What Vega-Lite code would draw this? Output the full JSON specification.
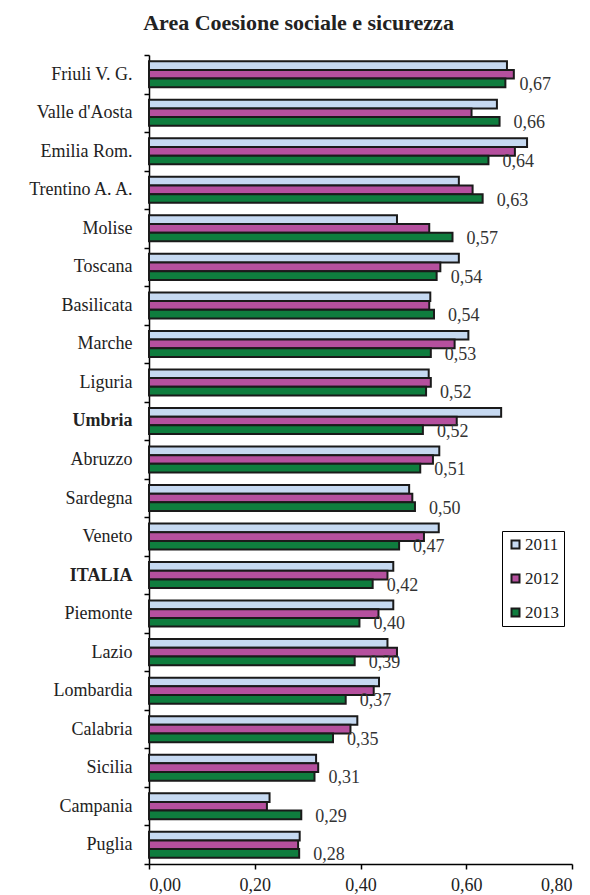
{
  "$schema": "https://vega.github.io/schema/vega-lite/v6.json",
  "autosize": "none",
  "padding": {"left": 149, "top": 55, "right": 18, "bottom": 31},
  "width": 423,
  "height": 809,
  "background": "white",
  "title": {
    "text": "Area Coesione sociale e sicurezza",
    "font": "Liberation Serif",
    "fontSize": 22,
    "fontWeight": "bold",
    "color": "#222222",
    "anchor": "middle",
    "dx": -62,
    "offset": 11
  },
  "config": {
    "view": {"stroke": null},
    "locale": {"number": {"decimal": ",", "thousands": ".", "grouping": [3], "currency": ["", " €"]}}
  },
  "data": {
    "values": [
      {"region": "Friuli V. G.", "year": "2011", "value": 0.677},
      {"region": "Friuli V. G.", "year": "2012", "value": 0.690},
      {"region": "Friuli V. G.", "year": "2013", "value": 0.674},
      {"region": "Valle d'Aosta", "year": "2011", "value": 0.658},
      {"region": "Valle d'Aosta", "year": "2012", "value": 0.610},
      {"region": "Valle d'Aosta", "year": "2013", "value": 0.663},
      {"region": "Emilia Rom.", "year": "2011", "value": 0.715},
      {"region": "Emilia Rom.", "year": "2012", "value": 0.692},
      {"region": "Emilia Rom.", "year": "2013", "value": 0.642},
      {"region": "Trentino A. A.", "year": "2011", "value": 0.586},
      {"region": "Trentino A. A.", "year": "2012", "value": 0.612},
      {"region": "Trentino A. A.", "year": "2013", "value": 0.631},
      {"region": "Molise", "year": "2011", "value": 0.469},
      {"region": "Molise", "year": "2012", "value": 0.530},
      {"region": "Molise", "year": "2013", "value": 0.574},
      {"region": "Toscana", "year": "2011", "value": 0.586},
      {"region": "Toscana", "year": "2012", "value": 0.551},
      {"region": "Toscana", "year": "2013", "value": 0.544},
      {"region": "Basilicata", "year": "2011", "value": 0.532},
      {"region": "Basilicata", "year": "2012", "value": 0.530},
      {"region": "Basilicata", "year": "2013", "value": 0.539},
      {"region": "Marche", "year": "2011", "value": 0.604},
      {"region": "Marche", "year": "2012", "value": 0.578},
      {"region": "Marche", "year": "2013", "value": 0.533},
      {"region": "Liguria", "year": "2011", "value": 0.529},
      {"region": "Liguria", "year": "2012", "value": 0.533},
      {"region": "Liguria", "year": "2013", "value": 0.524},
      {"region": "Umbria", "year": "2011", "value": 0.666},
      {"region": "Umbria", "year": "2012", "value": 0.582},
      {"region": "Umbria", "year": "2013", "value": 0.518},
      {"region": "Abruzzo", "year": "2011", "value": 0.549},
      {"region": "Abruzzo", "year": "2012", "value": 0.537},
      {"region": "Abruzzo", "year": "2013", "value": 0.513},
      {"region": "Sardegna", "year": "2011", "value": 0.492},
      {"region": "Sardegna", "year": "2012", "value": 0.498},
      {"region": "Sardegna", "year": "2013", "value": 0.503},
      {"region": "Veneto", "year": "2011", "value": 0.548},
      {"region": "Veneto", "year": "2012", "value": 0.520},
      {"region": "Veneto", "year": "2013", "value": 0.473},
      {"region": "ITALIA", "year": "2011", "value": 0.462},
      {"region": "ITALIA", "year": "2012", "value": 0.451},
      {"region": "ITALIA", "year": "2013", "value": 0.423},
      {"region": "Piemonte", "year": "2011", "value": 0.462},
      {"region": "Piemonte", "year": "2012", "value": 0.434},
      {"region": "Piemonte", "year": "2013", "value": 0.398},
      {"region": "Lazio", "year": "2011", "value": 0.451},
      {"region": "Lazio", "year": "2012", "value": 0.469},
      {"region": "Lazio", "year": "2013", "value": 0.389},
      {"region": "Lombardia", "year": "2011", "value": 0.435},
      {"region": "Lombardia", "year": "2012", "value": 0.425},
      {"region": "Lombardia", "year": "2013", "value": 0.372},
      {"region": "Calabria", "year": "2011", "value": 0.394},
      {"region": "Calabria", "year": "2012", "value": 0.381},
      {"region": "Calabria", "year": "2013", "value": 0.348},
      {"region": "Sicilia", "year": "2011", "value": 0.316},
      {"region": "Sicilia", "year": "2012", "value": 0.320},
      {"region": "Sicilia", "year": "2013", "value": 0.313},
      {"region": "Campania", "year": "2011", "value": 0.228},
      {"region": "Campania", "year": "2012", "value": 0.223},
      {"region": "Campania", "year": "2013", "value": 0.288},
      {"region": "Puglia", "year": "2011", "value": 0.285},
      {"region": "Puglia", "year": "2012", "value": 0.282},
      {"region": "Puglia", "year": "2013", "value": 0.284}
    ]
  },
  "encoding": {
    "y": {
      "field": "region",
      "type": "nominal",
      "sort": ["Friuli V. G.", "Valle d'Aosta", "Emilia Rom.", "Trentino A. A.", "Molise", "Toscana", "Basilicata", "Marche", "Liguria", "Umbria", "Abruzzo", "Sardegna", "Veneto", "ITALIA", "Piemonte", "Lazio", "Lombardia", "Calabria", "Sicilia", "Campania", "Puglia"],
      "scale": {"paddingInner": 0, "paddingOuter": 0},
      "axis": {
        "title": null,
        "tickBand": "extent",
        "tickSize": 5,
        "tickColor": "#000000",
        "domainColor": "#000000",
        "domainWidth": 1.5,
        "tickWidth": 1.5,
        "labelPadding": 12,
        "labelFont": "Liberation Serif",
        "labelFontSize": 18,
        "labelColor": "#222222",
        "labelFontWeight": {"condition": {"test": "datum.value === 'ITALIA' || datum.value === 'Umbria'", "value": "bold"}, "value": "normal"},
        "grid": false
      }
    },
    "yOffset": {
      "field": "year",
      "type": "nominal",
      "scale": {"paddingInner": 0, "paddingOuter": 0.72}
    },
    "x": {
      "field": "value",
      "type": "quantitative",
      "scale": {"domain": [0, 0.8], "nice": false},
      "axis": {
        "title": null,
        "values": [0, 0.2, 0.4, 0.6, 0.8],
        "format": ".2f",
        "grid": false,
        "tickSize": 5,
        "tickColor": "#000000",
        "domainColor": "#000000",
        "domainWidth": 1.5,
        "tickWidth": 1.5,
        "labelPadding": 7,
        "labelFont": "Liberation Serif",
        "labelFontSize": 18,
        "labelColor": "#222222"
      }
    }
  },
  "layer": [
    {
      "mark": {"type": "bar", "stroke": "#1a1a1a", "strokeWidth": 2},
      "encoding": {
        "color": {
          "field": "year",
          "type": "nominal",
          "scale": {"domain": ["2011", "2012", "2013"], "range": ["#C6D9F1", "#B5509E", "#0F7D3E"]},
          "legend": {
            "title": null,
            "orient": "none",
            "legendX": 353,
            "legendY": 476,
            "strokeColor": "#000000",
            "padding": 5,
            "rowPadding": 16,
            "symbolType": "square",
            "symbolSize": 64,
            "symbolStrokeColor": "#1a1a1a",
            "symbolStrokeWidth": 2,
            "labelFont": "Liberation Serif",
            "labelFontSize": 17,
            "labelColor": "#222222",
            "labelOffset": 1
          }
        }
      }
    },
    {
      "transform": [{"filter": "datum.year === '2013'"}],
      "mark": {"type": "text", "align": "left", "baseline": "middle", "dx": 14, "dy": 2, "font": "Liberation Serif", "fontSize": 18, "color": "#333333"},
      "encoding": {
        "text": {"field": "value", "type": "quantitative", "format": ".2f"}
      }
    }
  ]
}
